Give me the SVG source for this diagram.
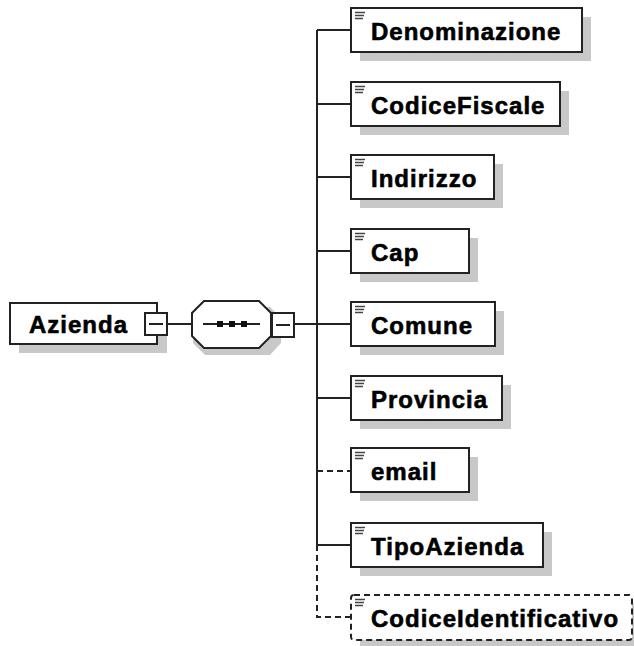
<svg xmlns="http://www.w3.org/2000/svg" width="634" height="646" viewBox="0 0 634 646">
<style>
.shadow{fill:#c8c8c8;stroke:none}
.box{fill:#fff;stroke:#222;stroke-width:2}
.dbox{fill:#fff;stroke:#222;stroke-width:2;stroke-dasharray:6,4}
.lbl{font-family:"Liberation Sans",Arial,sans-serif;font-weight:bold;font-size:24px;letter-spacing:1px;fill:#000;stroke:#000;stroke-width:0.6}
.ln{stroke:#222;stroke-width:2;fill:none}
.dln{stroke:#222;stroke-width:2;fill:none;stroke-dasharray:6,4}
.ico{stroke:#444;stroke-width:1.5}
</style>
<defs>
<g id="icon">
<line class="ico" x1="4" y1="4.5" x2="14" y2="4.5"/>
<line class="ico" x1="4" y1="7.5" x2="13" y2="7.5"/>
<line class="ico" x1="4" y1="10.5" x2="12" y2="10.5"/>
</g>
</defs>
<rect width="634" height="646" fill="#fff"/>
<g id="connectors">
<line class="ln" x1="167" y1="324" x2="193" y2="324"/>
<line class="ln" x1="294" y1="324" x2="351" y2="324"/>
<line class="ln" x1="317" y1="30" x2="317" y2="545"/>
<path class="dln" d="M317,545 V617 H351"/>
<line class="ln" x1="317" y1="30" x2="351" y2="30"/>
<line class="ln" x1="317" y1="104" x2="351" y2="104"/>
<line class="ln" x1="317" y1="177" x2="351" y2="177"/>
<line class="ln" x1="317" y1="251" x2="351" y2="251"/>
<line class="ln" x1="317" y1="398" x2="351" y2="398"/>
<line class="dln" x1="317" y1="471" x2="351" y2="471"/>
<line class="ln" x1="317" y1="545" x2="351" y2="545"/>
</g>
<g id="Azienda">
<rect class="shadow" x="19" y="312" width="148" height="41"/>
<rect class="box" x="10" y="303" width="147" height="41"/>
<text class="lbl" x="29" y="333">Azienda</text>
<rect class="box" x="145" y="313" width="22" height="22"/>
<line class="ln" x1="149" y1="324" x2="163" y2="324"/>
</g>
<g id="sequence">
<path class="shadow" d="M205,307 H270 L281,318 V343 L270,355 H205 L193,343 V318 Z"/>
<path class="box" d="M204,301 H259 L271,313 V336 L259,348 H204 L192,336 V313 Z"/>
<line class="ln" x1="203" y1="324" x2="260" y2="324"/>
<rect x="217" y="321" width="6" height="6" fill="#111"/>
<rect x="229" y="321" width="6" height="6" fill="#111"/>
<rect x="241" y="321" width="6" height="6" fill="#111"/>
<rect class="box" x="272" y="313" width="22" height="24"/>
<line class="ln" x1="276" y1="325" x2="290" y2="325"/>
</g>
<g id="Denominazione">
<rect class="shadow" x="360" y="17" width="231" height="44"/>
<rect class="box" x="351" y="8" width="231" height="44"/>
<use href="#icon" x="351" y="8"/>
<text class="lbl" x="371" y="40">Denominazione</text>
</g>
<g id="CodiceFiscale">
<rect class="shadow" x="360" y="91" width="209" height="44"/>
<rect class="box" x="351" y="82" width="209" height="44"/>
<use href="#icon" x="351" y="82"/>
<text class="lbl" x="371" y="114">CodiceFiscale</text>
</g>
<g id="Indirizzo">
<rect class="shadow" x="360" y="164" width="143" height="44"/>
<rect class="box" x="351" y="155" width="143" height="44"/>
<use href="#icon" x="351" y="155"/>
<text class="lbl" x="371" y="187">Indirizzo</text>
</g>
<g id="Cap">
<rect class="shadow" x="360" y="238" width="118" height="44"/>
<rect class="box" x="351" y="229" width="118" height="44"/>
<use href="#icon" x="351" y="229"/>
<text class="lbl" x="371" y="261">Cap</text>
</g>
<g id="Comune">
<rect class="shadow" x="360" y="311" width="144" height="44"/>
<rect class="box" x="351" y="302" width="144" height="44"/>
<use href="#icon" x="351" y="302"/>
<text class="lbl" x="371" y="334">Comune</text>
</g>
<g id="Provincia">
<rect class="shadow" x="360" y="385" width="151" height="44"/>
<rect class="box" x="351" y="376" width="151" height="44"/>
<use href="#icon" x="351" y="376"/>
<text class="lbl" x="371" y="408">Provincia</text>
</g>
<g id="email">
<rect class="shadow" x="360" y="457" width="118" height="44"/>
<rect class="box" x="351" y="448" width="118" height="44"/>
<use href="#icon" x="351" y="448"/>
<text class="lbl" x="371" y="480">email</text>
</g>
<g id="TipoAzienda">
<rect class="shadow" x="360" y="532" width="192" height="44"/>
<rect class="box" x="351" y="523" width="192" height="44"/>
<use href="#icon" x="351" y="523"/>
<text class="lbl" x="371" y="555">TipoAzienda</text>
</g>
<g id="CodiceIdentificativo">
<rect class="shadow" x="360" y="604" width="282" height="44"/>
<rect class="dbox" x="351" y="595" width="281" height="45" rx="3"/>
<use href="#icon" x="351" y="595"/>
<text class="lbl" x="371" y="627">CodiceIdentificativo</text>
</g>
</svg>
